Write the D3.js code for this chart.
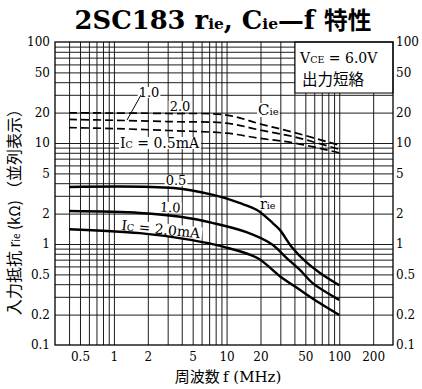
<!DOCTYPE html>
<html><head><meta charset="utf-8">
<script src="https://cdn.jsdelivr.net/npm/d3@7"></script>
<style>body{margin:0;background:#fff}</style>
</head><body>
<svg id="c" width="422" height="389" xmlns="http://www.w3.org/2000/svg"></svg>
<script>
// ---- data ----
const freqTickLabels = [0.5, 1, 2, 5, 10, 20, 50, 100, 200];
const valueTickLabels = [0.1, 0.2, 0.5, 1, 2, 5, 10, 20, 50, 100];

// r_ie (kΩ) vs f (MHz), Ic = 0.5 / 1.0 / 2.0 mA
const rieFreq05 = [0.4, 3.4, 7.6, 13, 18.6, 25.7, 29.7, 38, 51, 67, 100];
const rie05     = [3.67, 3.58, 3.06, 2.55, 2.17, 1.61, 1.38, 0.93, 0.66, 0.52, 0.39];
const rieFreq10 = [0.4, 1.7, 3.9, 7.6, 15, 25, 34, 45, 58, 100];
const rie10     = [2.12, 2.03, 1.86, 1.61, 1.31, 1.0, 0.73, 0.55, 0.41, 0.28];
const rieFreq20 = [0.4, 1.7, 4.8, 9.3, 18.6, 29.7, 45, 67, 100];
const rie20     = [1.40, 1.28, 1.10, 0.94, 0.73, 0.48, 0.35, 0.26, 0.198];

// C_ie (pF) vs f (MHz)
const cieFreq = [0.4, 1, 3, 10, 20, 40, 100];
const cie20   = [19.9, 19.8, 19.6, 18.9, 15.4, 12.7, 9.5];
const cie10   = [17.1, 16.8, 16.3, 15.7, 13.4, 11.5, 8.65];
const cie05   = [14.2, 13.9, 13.3, 12.5, 11.1, 10.0, 8.0];

// ---- setup ----
const SERIF = "'DejaVu Serif', 'Liberation Serif', serif";
const CJK = "'Noto Sans CJK JP', 'Noto Sans CJK SC', sans-serif";
const svg = d3.select('#c');
const x = d3.scaleLog().domain([0.3, 300]).range([55, 393]);
const y = d3.scaleLog().domain([0.1, 100]).range([345, 42]);
const X0 = x.range()[0], X1 = x.range()[1], Y0 = y.range()[0], Y1 = y.range()[1];

svg.append('rect').attr('width', 422).attr('height', 389).attr('fill', '#fff');

// ---- grid ----
const gx = x.ticks().filter(v => v > 0.3 + 1e-9 && v < 300 - 1e-9);
const gy = y.ticks().filter(v => v > 0.1 + 1e-9 && v < 100 - 1e-9);
svg.append('g').attr('transform', `translate(0,${Y0})`)
  .call(d3.axisBottom(x).tickValues(gx).tickSize(-(Y0 - Y1)).tickFormat(''))
  .call(g => g.select('.domain').remove())
  .selectAll('line').attr('stroke', '#111').attr('stroke-width', 0.95);
svg.append('g').attr('transform', `translate(${X0},0)`)
  .call(d3.axisLeft(y).tickValues(gy).tickSize(-(X1 - X0)).tickFormat(''))
  .call(g => g.select('.domain').remove())
  .selectAll('line').attr('stroke', '#111').attr('stroke-width', 0.95);

// ---- tick labels ----
const fmt = d3.format('~g');
function styleTicks(g) {
  g.select('.domain').remove();
  g.selectAll('text').attr('font-family', SERIF).attr('font-size', 12).attr('fill', '#000');
}
svg.append('g').attr('transform', `translate(${X0},0)`)
  .call(d3.axisLeft(y).tickValues(valueTickLabels).tickSize(0).tickPadding(5).tickFormat(fmt))
  .call(styleTicks);
svg.append('g').attr('transform', `translate(${X1},0)`)
  .call(d3.axisRight(y).tickValues(valueTickLabels).tickSize(0).tickPadding(3).tickFormat(fmt))
  .call(styleTicks);
svg.append('g').attr('transform', `translate(0,${Y0})`)
  .call(d3.axisBottom(x).tickValues(freqTickLabels).tickSize(0).tickPadding(7).tickFormat(fmt))
  .call(styleTicks);

// ---- text helper ----
function addText(parent, tx, ty, parts, o = {}) {
  const t = parent.append('text').attr('x', tx).attr('y', ty)
    .attr('font-size', o.size || 13).attr('font-family', o.family || SERIF)
    .attr('text-anchor', o.anchor || 'start').attr('fill', '#000');
  if (o.weight) t.attr('font-weight', o.weight);
  parts.forEach(p => {
    const s = t.append('tspan').text(p.t);
    if (p.s) s.attr('font-size', p.s);
    if (p.f) s.attr('font-family', p.f);
    if (p.dy) s.attr('dy', p.dy);
  });
  if (o.transform) t.attr('transform', o.transform);
  if (o.knock) {
    const b = t.node().getBBox(), pd = o.pad == null ? 1 : o.pad;
    const r = parent.insert('rect', () => t.node())
      .attr('x', b.x - pd).attr('y', b.y + 2).attr('width', b.width + 2 * pd).attr('height', b.height - 4)
      .attr('fill', '#fff');
    if (o.transform) r.attr('transform', o.transform);
  }
  return t;
}

const lab = svg.append('g');

// legend box
lab.append('rect').attr('x', 295).attr('y', Y1).attr('width', X1 - 295).attr('height', 51)
  .attr('fill', '#fff').attr('stroke', '#000').attr('stroke-width', 1);
addText(lab, 300, 63, [{t: 'V'}, {t: 'CE', s: 9.5}, {t: ' = 6.0V'}], {size: 14});
addText(lab, 302, 85, [{t: '出力短絡'}], {size: 15.5, family: CJK});

// C_ie labels
addText(lab, 149, 97, [{t: '1.0'}], {size: 13, anchor: 'middle', knock: true});
lab.append('line').attr('x1', 141).attr('y1', 95).attr('x2', 127).attr('y2', 120)
  .attr('stroke', '#000').attr('stroke-width', 1);
addText(lab, 180, 111, [{t: '2.0'}], {size: 13, anchor: 'middle', knock: true});
addText(lab, 120, 148, [{t: 'I'}, {t: 'C', s: 9.5}, {t: ' = 0.5mA'}], {size: 14, knock: true});
addText(lab, 258, 115, [{t: 'C', s: 15}, {t: 'ie', s: 10}], {size: 14, knock: true});

// r_ie labels
addText(lab, 176, 185, [{t: '0.5'}], {size: 13, anchor: 'middle', knock: true});
addText(lab, 170, 212, [{t: '1.0'}], {size: 13, anchor: 'middle', knock: true, transform: 'rotate(3,170,212)'});
addText(lab, 121, 230, [{t: 'I'}, {t: 'C', s: 9.5}, {t: ' = 2.0mA'}], {size: 14, knock: true, transform: 'rotate(6,121,230)'});
addText(lab, 260, 209, [{t: 'r', s: 14}, {t: 'ie', s: 9.5}], {size: 14, knock: true});

// ---- curves ----
const line = d3.line().x(d => x(d[0])).y(d => y(d[1])).curve(d3.curveCatmullRom.alpha(0.5));
const curves = svg.append('g').attr('fill', 'none').attr('stroke', '#000');
[[rieFreq05, rie05], [rieFreq10, rie10], [rieFreq20, rie20]].forEach(([f, v]) => {
  curves.append('path').attr('d', line(d3.zip(f, v))).attr('stroke-width', 2.4);
});
[cie20, cie10, cie05].forEach(v => {
  curves.append('path').attr('d', line(d3.zip(cieFreq, v)))
    .attr('stroke-width', 1.7).attr('stroke-dasharray', '8,4');
});

// ---- frame ----
svg.append('rect').attr('x', X0).attr('y', Y1).attr('width', X1 - X0).attr('height', Y0 - Y1)
  .attr('fill', 'none').attr('stroke', '#000').attr('stroke-width', 1.3);

// ---- title (font size fitted to the reference width) ----
const title = addText(svg, 223, 29, [
  {t: '2SC183  r'}, {t: 'ie', s: '0.6em'}, {t: ', C'}, {t: 'ie', s: '0.6em'}, {t: '—f '},
  {t: '特性', f: CJK, s: '0.92em'}
], {size: 26, weight: 'bold', anchor: 'middle'});
(function () {
  const w = title.node().getBBox().width;
  if (w > 0) title.attr('font-size', (26 * 297 / w).toFixed(2));
})();

// ---- axis titles ----
addText(svg, 0, 0, [
  {t: '入力抵抗 ', f: CJK}, {t: 'r', s: 15}, {t: 'ie', s: 10}, {t: ' (kΩ) ', s: 15}, {t: '（並列表示）', f: CJK}
], {size: 16, family: CJK, anchor: 'middle', transform: 'translate(20,208) rotate(-90)'});
addText(svg, 228, 382, [{t: '周波数 ', f: CJK}, {t: 'f (MHz)', f: SERIF}], {size: 15, family: CJK, anchor: 'middle'});
</script>
</body></html>
